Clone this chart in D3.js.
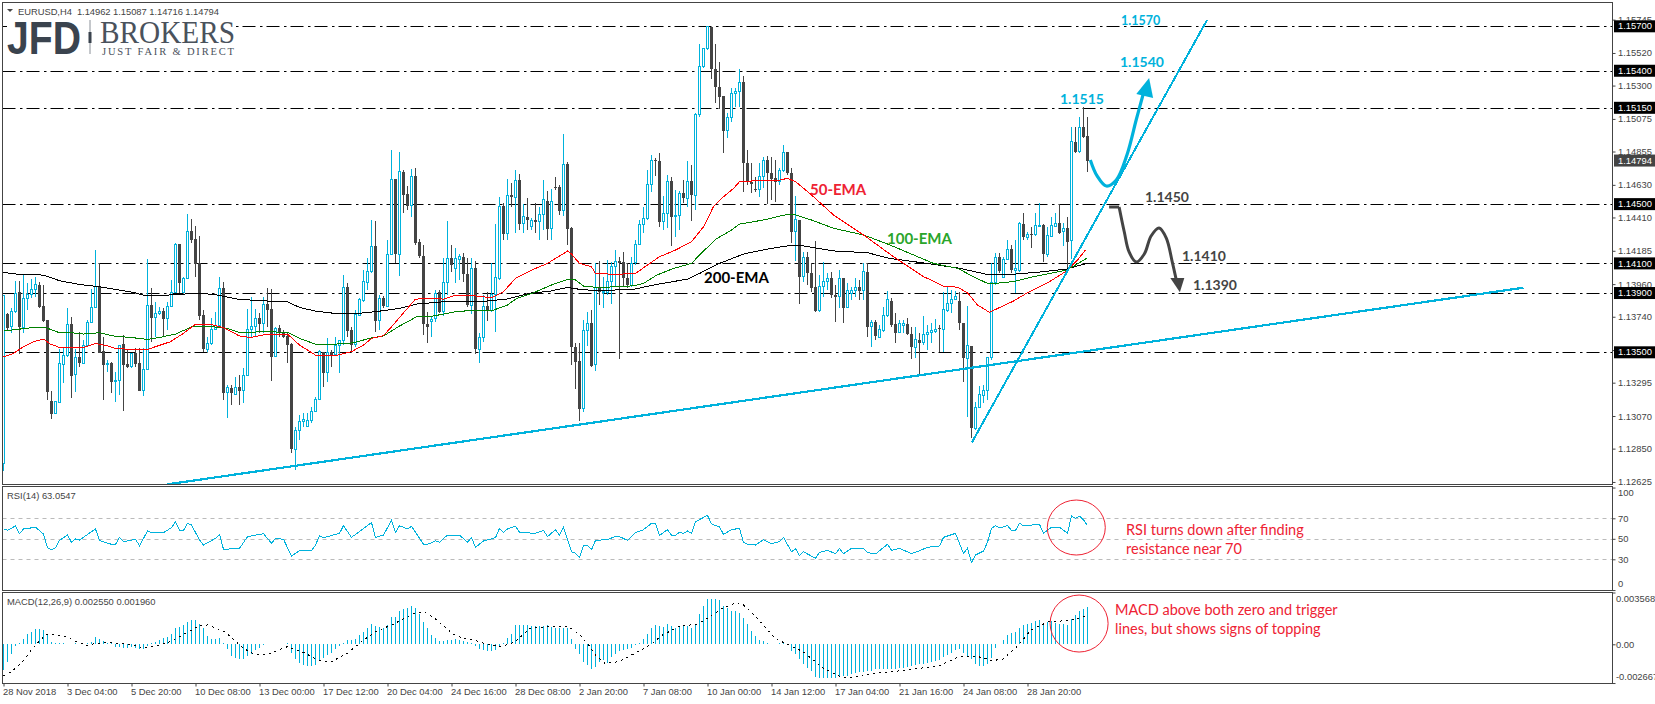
<!DOCTYPE html>
<html>
<head>
<meta charset="utf-8">
<script src="https://cdn.jsdelivr.net/npm/d3@7"></script>
<style>
  html, body { margin: 0; padding: 0; background: #fff; overflow: hidden; }
  svg { display: block; }
  .axis text { font: 9.4px "Liberation Sans", sans-serif; fill: #444; }
  .axis line { stroke: #444; }
  .box text { font: 9.4px "Liberation Sans", sans-serif; fill: #fff; }
  .note { font-family: Lato, sans-serif; }
</style>
</head>
<body>
<div id="wrap"></div>
<script>
// candles, in points (1/100000)
const opens = [
  112750,113758,113673,113774,113904,113666,113864,113891,113925,113954,
  113812,113717,113173,113087,113162,113418,113479,113688,113351,113466,
  113425,113544,113704,113803,113947,113508,113418,113425,113301,113308,
  113553,113418,113407,113497,113425,113241,113384,113817,113735,113762,
  113778,113729,113810,113904,114230,113902,113996,114320,114264,114100,
  113751,113522,113560,113655,113684,113931,113227,113261,113213,113263,
  113241,113344,113655,113673,113729,113695,113823,113789,113470,113661,
  113634,113610,113553,112845,112970,113031,112997,113038,113101,113182,
  113499,113362,113499,113484,113546,113578,113938,113650,113551,113751,
  113848,113972,114044,114217,113717,113864,113812,114163,114672,114163,
  114714,114568,114489,114687,114246,114150,113690,113708,113729,113904,
  113774,113972,114134,114066,114127,114141,114026,113819,114066,113522,
  113600,113812,113785,113891,113999,114487,114303,114561,114543,114662,
  114368,114410,114348,114392,114381,114428,114521,114334,114613,114615,
  114455,114770,114341,113538,113441,113121,113646,113695,113416,113938,
  113902,113902,113976,114082,114113,114109,114003,113954,114105,114226,
  114363,114404,114633,114797,114788,114383,114437,114653,114415,114422,
  114575,114539,114653,114561,115106,115430,115547,115697,115409,115293,
  115229,114995,115085,115248,115259,115322,114777,114651,114600,114600,
  114685,114797,114707,114676,114651,114725,114849,114708,114314,114393,
  114011,114141,114033,113938,113781,113943,113977,113999,113887,113876,
  113999,113803,113898,113920,113938,113920,114044,113673,113704,113601,
  113650,113745,113846,113691,113632,113684,113691,113623,113534,113583,
  113565,113621,113632,113639,113666,113655,113785,113830,113858,113846,
  113700,113459,113543,112987,113126,113207,113245,113466,113970,114141,
  114006,114127,114195,114055,114055,114366,114274,114299,114292,114353,
  114359,114157,114280,114348,114370,114314,114337,114253,114922,114854,
  115019,114962
];
const highs = [
  113882,113763,113796,113983,113983,114021,113965,113992,114010,113976,
  113954,113717,113241,113173,113520,113538,113796,113740,113520,113639,
  113582,113717,113925,114190,114100,113600,113447,113436,113369,113549,
  113614,113515,113497,113526,113526,113526,114127,113931,113841,113803,
  113796,113841,113988,114235,114230,114010,114433,114399,114352,114284,
  113785,113605,113729,113774,114010,113976,113279,113279,113335,113346,
  113391,113790,113870,113790,113762,113875,113931,113925,113672,113684,
  113650,113628,113560,112997,113076,113087,113092,113132,113200,113515,
  113504,113594,113515,113605,113582,114021,113970,113672,113785,113864,
  114055,114134,114392,114386,113886,113880,114257,114865,114672,114851,
  114730,114620,114737,114743,114266,114224,113774,113740,113920,113920,
  114134,114388,114224,114201,114163,114167,114134,114134,114116,113627,
  113886,113909,114100,114365,114550,114505,114669,114640,114730,114703,
  114498,114543,114404,114505,114482,114662,114588,114600,114685,114629,
  114973,114784,114347,113565,113565,113717,113774,113785,114100,114116,
  114010,114122,114111,114190,114141,114179,114100,114145,114257,114393,
  114482,114730,114831,114813,114842,114554,114696,114680,114595,114588,
  114662,114791,114764,115112,115580,115556,115697,115697,115580,115457,
  115229,115112,115281,115281,115409,115364,114865,114775,114685,114780,
  114815,114824,114820,114797,114741,114899,114849,114742,114555,114393,
  114179,114179,114100,114251,114022,114107,114033,114044,113954,114055,
  113999,113965,113943,113999,113988,114100,114105,113718,113718,113684,
  113808,113914,113864,113763,113718,113718,113729,113673,113673,113628,
  113745,113684,113695,113722,113684,113909,113943,113920,113916,113909,
  113700,113813,113543,113167,113272,113279,113471,114100,114168,114168,
  114145,114258,114224,114258,114382,114438,114314,114348,114438,114505,
  114366,114348,114415,114438,114501,114370,114415,115023,115019,115086,
  115153,115087
];
const lows = [
  112698,113650,113628,113767,113488,113632,113785,113864,113875,113801,
  113706,113177,113049,113083,113162,113290,113470,113193,113234,113402,
  113418,113537,113695,113796,113497,113177,113369,113227,113166,113211,
  113103,113396,113391,113402,113241,113207,113380,113571,113605,113751,
  113600,113650,113803,113897,113897,113897,113992,114240,114010,113717,
  113504,113504,113549,113650,113672,113177,113058,113144,113213,113144,
  113155,113342,113594,113605,113628,113628,113672,113308,113466,113605,
  113594,113430,112822,112705,112907,112997,112997,113020,113099,113177,
  113267,113301,113402,113479,113362,113549,113605,113492,113537,113745,
  113841,113920,114032,113639,113650,113796,113807,114163,114100,114015,
  114437,114460,114415,114224,114134,113616,113560,113600,113706,113767,
  113745,113886,114044,113965,113988,113976,113807,113756,113488,113425,
  113571,113713,113774,113639,113988,114257,114257,114482,114303,114325,
  114303,114325,114325,114303,114257,114325,114257,114257,114595,114426,
  114419,114224,113414,113250,113038,113099,113544,113402,113375,113819,
  113796,113886,113825,113942,113452,113942,113931,113942,114089,114224,
  114303,114393,114584,114689,114347,114325,114336,114219,114280,114325,
  114505,114482,114388,114460,115090,115416,115540,115344,115180,115142,
  114842,114944,115056,115153,115158,114579,114629,114577,114584,114550,
  114606,114500,114528,114516,114629,114719,114696,114235,114116,113824,
  113977,113954,113909,113774,113774,113876,113920,113864,113707,113797,
  113700,113797,113853,113876,113853,113853,113605,113534,113583,113594,
  113639,113740,113673,113565,113628,113628,113617,113455,113459,113347,
  113549,113515,113561,113628,113504,113504,113774,113763,113853,113650,
  113302,113065,112919,112975,113122,113155,113178,113448,113954,114033,
  114006,114123,114033,113898,114044,114258,114258,114202,114285,114348,
  114107,114145,114276,114343,114298,114220,114067,114128,114848,114848,
  114944,114716
];
const closes = [
  113880,113666,113774,113898,113668,113864,113891,113925,113958,113808,
  113713,113234,113085,113169,113425,113479,113688,113342,113466,113425,
  113544,113704,113803,113947,113497,113414,113425,113301,113310,113544,
  113416,113400,113492,113418,113241,113384,113817,113733,113762,113776,
  113726,113807,113904,114230,113970,113999,114318,114258,114093,113745,
  113522,113560,113655,113684,113931,113227,113261,113223,113263,113238,
  113344,113657,113673,113729,113690,113823,113785,113470,113661,113628,
  113605,113549,112845,112975,113034,113047,113040,113101,113182,113504,
  113362,113499,113484,113549,113578,113938,113646,113549,113758,113853,
  113976,114044,114217,113713,113864,113812,114163,114667,114163,114717,
  114561,114489,114687,114240,114150,113690,113673,113722,113898,113774,
  113972,114134,114089,114134,114145,114026,113819,114066,113522,113600,
  113807,113781,113891,114006,114487,114298,114561,114550,114662,114365,
  114417,114392,114390,114381,114433,114528,114332,114519,114606,114455,
  114770,114332,113538,113436,113117,113650,113695,113407,113936,113909,
  113909,113981,114082,114113,114100,114003,113954,114100,114230,114363,
  114404,114633,114797,114788,114381,114437,114653,114415,114426,114575,
  114543,114653,114561,115106,115430,115547,115697,115409,115293,115225,
  114995,115085,115248,115261,115322,114775,114651,114633,114595,114689,
  114793,114707,114669,114651,114730,114849,114707,114314,114393,114011,
  114141,114033,113932,113779,113947,113977,113999,113887,113876,113999,
  113797,113916,113920,113938,113916,114044,113673,113704,113610,113655,
  113749,113853,113684,113632,113691,113691,113623,113534,113588,113561,
  113621,113635,113650,113655,113660,113790,113830,113858,113876,113700,
  113459,113543,112987,113129,113212,113245,113466,113970,114141,114051,
  114127,114195,114055,114067,114366,114281,114296,114294,114353,114359,
  114161,114285,114353,114370,114307,114337,114247,114922,114854,115019,
  114956,114794
];

// moving averages: [bar, points]
const ema50 = [[0,113470],[2.5,113492],[5,113538],[7.5,113571],[10,113589],[11.7,113556],[14,113533],[17,113531],[20,113533],[23,113560],[24,113553],[26,113544],[28,113526],[32.5,113519],[36,113519],[38,113538],[41.7,113571],[45,113628],[48,113690],[52.5,113684],[55,113666],[59,113610],[61.7,113600],[66,113623],[71,113623],[74,113549],[78,113481],[83,113477],[87,113504],[90,113549],[92,113594],[95,113612],[97,113672],[99,113735],[103,113859],[107,113864],[110,113859],[113,113886],[118,113880],[122,113868],[125,113909],[128,113999],[132,114055],[136,114100],[141,114183],[142,114163],[144,114100],[147,114077],[148,114032],[153,114026],[158,114032],[161,114089],[164,114145],[168,114190],[172,114246],[175,114347],[177.5,114483],[180,114550],[182.5,114606],[184,114651],[187,114656],[194,114662],[196,114674],[198,114652],[202,114562],[207.5,114427],[215,114292],[222.5,114145],[230,114011],[235,113947],[238.5,113939],[241,113902],[243.5,113819],[246.5,113770],[252.5,113846],[256,113902],[261.5,113977],[265.5,114044],[268.5,114123],[270.5,114190]];
const ema100 = [[0,113643],[3.3,113654],[7.5,113668],[10.4,113668],[13.8,113634],[17,113632],[20,113623],[24,113632],[27.5,113610],[32.5,113598],[36,113587],[39,113600],[43,113623],[47.5,113677],[51,113677],[56,113661],[59,113634],[66,113639],[71,113634],[74,113594],[78,113555],[83,113555],[87.5,113564],[92,113598],[95,113610],[99,113677],[103.3,113740],[107.5,113745],[113,113774],[118.3,113785],[122.5,113785],[126,113819],[128.3,113864],[132.5,113902],[137,113954],[141,113992],[143,113988],[145,113947],[148.3,113938],[153.3,113942],[157.5,113949],[160,113965],[163.3,114021],[167.5,114066],[172,114100],[174,114156],[178,114262],[182,114325],[184,114365],[190,114393],[196,114431],[198,114427],[202,114393],[207.5,114337],[215,114292],[221,114231],[227.5,114157],[232.5,114100],[238.5,114067],[242.5,114010],[246.3,113961],[252.5,113977],[257.5,114010],[265.8,114055],[268.7,114100],[270.8,114134]];
const ema200 = [[0,114039],[3.3,114028],[10,114021],[14,113983],[19,113958],[24,113942],[27.5,113927],[32.5,113904],[35,113886],[41,113886],[48.3,113898],[52.5,113891],[59,113857],[66,113846],[71,113841],[74,113803],[78,113778],[83,113762],[88.3,113762],[93,113774],[99,113796],[103.3,113826],[110,113841],[115.8,113841],[120.8,113846],[125.8,113859],[132.5,113904],[136,113909],[141,113938],[144,113925],[148.3,113916],[157.5,113925],[162.5,113954],[171,113994],[174,114032],[179,114100],[185,114163],[191,114197],[196,114218],[200,114218],[207.5,114184],[216,114172],[221.5,114134],[230.8,114100],[239,114067],[246.5,114022],[253,114028],[260,114044],[265.8,114062],[270.8,114100]];

// RSI(14): [bar, value]
const rsi = [[0,59.6],[1,58.3],[3,62.5],[4,55],[5,59.6],[8,61.2],[10,54.7],[11,41.3],[12,39.4],[13,41.3],[14,48.5],[16,53.7],[17,46.6],[18,49.8],[19,48.8],[23,59.6],[24,48.2],[27,44.6],[28,44.6],[29,51.4],[30,47.2],[33,49.5],[34,43.3],[36,57.6],[37,56],[40,56],[42,60.9],[43,66.7],[44,58.3],[45,58.3],[46,65.1],[47,63.5],[49,48.8],[50,43.9],[53,50.5],[54,54.4],[55,39.7],[59,40.7],[61,52.1],[65,55],[67,45.6],[68,50.5],[70,49.5],[72,33.2],[74,38.4],[77,38.7],[78,43.9],[79,53.1],[80,51.1],[84,55.3],[85,62.8],[87,51.4],[92,65.8],[93,51.4],[95,53.7],[97,68],[98,56.3],[99,62.8],[101,59.6],[102,62.2],[105,44.6],[106,44.6],[108,47.9],[109,46.6],[111,53.7],[114,53.7],[116,46.6],[117,51.4],[118,41.7],[120,47.9],[123,51.1],[124,60.2],[125,56.3],[126,59.6],[128,62.2],[129,56.3],[133,55.3],[135,58.3],[136,52.1],[138,58.9],[139,53.7],[140,61.2],[142,37.4],[143,35.8],[144,31.6],[145,43],[146,43.3],[147,39.4],[148,48.5],[151,49.2],[153,52.4],[154,52.1],[156,48.5],[158,56],[160,58.9],[162,65.1],[163,65.1],[164,53.4],[166,58.9],[167,53.4],[168,53.4],[169,56.3],[170,55.3],[171,57.6],[172,55.3],[173,66.7],[176,72.9],[177,64.5],[179,61.5],[180,54.4],[182,58.9],[184,60.2],[185,46.6],[186,44.6],[188,43.9],[190,49.2],[192,45.2],[194,47.2],[195,51.4],[197,37.4],[198,40.4],[199,33.5],[200,37.4],[203,30.9],[204,36.8],[206,38.7],[208,35.5],[209,40.4],[210,35.5],[212,40.7],[215,40.7],[216,36.5],[218,35.2],[221,44.6],[222,38.7],[224,40.7],[227,35.5],[229,38.4],[231,41.7],[234,43],[235,51.4],[238,55.3],[240,35.5],[241,40.7],[242,27],[243,34.2],[245,38.1],[246,46.6],[247,60.2],[248,62.8],[249,60.6],[251,62.8],[252,58.3],[253,58.3],[254,65.1],[255,62.8],[259,64.1],[260,55.3],[262,61.2],[264,61.2],[266,55.3],[267,72.3],[268,70],[269,72],[270,68.4],[271,63.05]];

// MACD histogram per bar, in millionths
const macdHist = [
  -1771,-1242,-667,-115,69,345,690,874,1058,1058,
  966,690,138,92,92,69,0,46,69,46,
  46,92,184,529,345,230,115,69,-184,-184,
  -230,-230,-184,-230,-322,-322,-138,92,184,299,
  414,506,690,1150,1196,1334,1518,1656,1656,1380,
  1104,575,345,368,414,69,-345,-805,-966,-1035,
  -1035,-805,-690,-391,-276,-69,0,46,46,46,
  46,69,-598,-1035,-1265,-1426,-1495,-1518,-1426,-1150,
  -966,-736,-575,-322,-115,115,276,322,345,644,
  874,1104,1380,1265,1219,1150,1334,1886,1886,2300,
  2415,2530,2645,2484,2070,1564,1150,644,414,230,
  230,276,322,368,322,230,184,115,-115,-345,
  -414,-460,-460,-414,-184,69,414,736,1334,1334,
  1334,1334,1242,1242,1242,1288,1334,1196,1150,1150,
  1150,1150,345,-322,-690,-1196,-1426,-1725,-1564,-1196,
  -1104,-1265,-874,-690,-460,-414,-345,-276,-69,115,
  345,690,1104,1334,1265,1219,1380,1265,1150,1196,
  1265,1288,1150,1380,2070,2645,3105,3151,3151,3036,
  2645,2484,2300,2300,2185,1840,1380,920,575,322,
  230,69,0,46,69,115,-69,-460,-690,-1035,
  -1380,-1656,-1840,-2254,-2300,-2300,-2300,-2300,-2300,-2254,
  -2185,-2185,-2070,-1955,-1886,-1886,-1840,-1840,-1725,-1725,
  -1725,-1725,-1725,-1725,-1610,-1610,-1564,-1495,-1426,-1380,
  -1334,-1265,-1196,-1150,-1104,-874,-736,-575,-414,-345,
  -575,-805,-1035,-1380,-1495,-1495,-1380,-920,-276,0,
  276,644,805,874,1150,1334,1380,1495,1610,1656,
  1495,1564,1610,1495,1426,1380,1334,1725,2001,2300,
  2415,2550
];
// signal line: [bar, millionths]
const macdSignal = [[0,-2185],[2,-1886],[4.4,-1311],[7,-391],[8.8,184],[10.6,644],[12.3,690],[16,483],[18.5,138],[21,-92],[22.9,69],[25.5,115],[30,69],[32.5,-46],[35,-276],[38.6,-92],[41.3,138],[44.8,644],[49,1288],[51,1334],[55.3,874],[59,-46],[61.5,-552],[63.7,-736],[66.7,-621],[71,-161],[74.6,-506],[79,-1127],[82,-1196],[86,-621],[89.5,184],[93,874],[97.4,1380],[102.7,2139],[105.3,2208],[108,1748],[112.3,713],[115,414],[117.6,299],[121.5,-46],[124.6,-161],[128,184],[131.6,1104],[136.7,1242],[141,1242],[143.7,759],[146.3,-46],[148,-736],[150.3,-1311],[153.8,-1196],[157.8,-621],[161.7,-46],[164.8,644],[169.2,1265],[173.5,1380],[176,1794],[179.7,2484],[182.8,2829],[185,2714],[188.5,1794],[192.8,414],[196.3,-46],[199.9,-506],[205,-1656],[208.6,-2162],[211.3,-2346],[215.6,-2070],[226,-1771],[234,-1472],[239.3,-805],[243.7,-851],[247.2,-1127],[249.9,-1012],[253.4,-161],[256.9,989],[261.3,1564],[266.5,1633],[271,1960]];

// horizontal levels and axis labels
const levels = [1.157, 1.154, 1.1515, 1.145, 1.141, 1.139, 1.135];
const lastPrice = 1.14794;
const priceTicks = [1.15745, 1.1552, 1.153, 1.15075, 1.14855, 1.1463, 1.1441, 1.14185, 1.1396, 1.1374, 1.13515, 1.13295, 1.1307, 1.1285, 1.12625];
const rsiTicks = [100, 70, 50, 30, 0];
const macdTicks = [0.003568, 0, -0.002667];
const macdTickLabels = ["0.003568", "0.00", "-0.002667"];
const dateTicks = d3.range(0, 257, 16);
const dateLabels = ["28 Nov 2018", "3 Dec 04:00", "5 Dec 20:00", "10 Dec 08:00", "13 Dec 00:00", "17 Dec 12:00", "20 Dec 04:00", "24 Dec 16:00", "28 Dec 08:00", "2 Jan 20:00", "7 Jan 08:00", "10 Jan 00:00", "14 Jan 12:00", "17 Jan 04:00", "21 Jan 16:00", "24 Jan 08:00", "28 Jan 20:00"];

// drawn annotations: [bar, price]
const supportLine = [[41, 1.12609], [380, 1.13936]];
const steepLine = [[242.1, 1.12892], [300.9, 1.15743]];
const upPath = [[271.7, 1.14798], [273.4, 1.1469], [275.7, 1.14622], [278.2, 1.14663], [280.9, 1.14835], [283.2, 1.15071], [285, 1.1525]];
const upHead = [[286.4, 1.15351], [283.2, 1.15243], [287.4, 1.15216]];
const downStub = [[276.4, 1.14481], [278.9, 1.14481]];
const downPath = [[278.9, 1.14481], [280.2, 1.14312], [281.4, 1.14177], [283.2, 1.14109], [285.2, 1.14163], [286.9, 1.14285], [288.9, 1.14339], [290.7, 1.14271], [292.2, 1.14109], [293.2, 1.13988]];
const downHead = [[294.1, 1.13905], [291.7, 1.14002], [295.2, 1.14002]];

const width = 1655;
const height = 704;
const frame = { left: 2.5, right: 1612.5 };
const pane = {
    main: { top: 2.5, bottom: 484.5 },
    rsi: { top: 486.5, bottom: 590.5 },
    macd: { top: 592.5, bottom: 683.5 }
};
const BLUE = "#00b2dc";
const DARK = "#444";

const x = d3.scaleLinear().domain([0, 271]).range([3.5, 1087.5]);
const y = d3.scaleLinear().domain([1.157, 1.135]).range([26.3, 352.3]);
const rsiY = d3.scaleLinear().domain([70, 30]).range([518.3, 559.3]);
const macdY = d3.scaleLinear().domain([0, 0.003568]).range([644.3, 592.5]);

const svg = d3.select("#wrap").append("svg")
    .attr("width", width)
    .attr("height", height);

svg.append("rect").attr("width", width).attr("height", height).attr("fill", "#fff");

svg.append("clipPath").attr("id", "main-clip").append("rect")
    .attr("x", frame.left).attr("y", pane.main.top)
    .attr("width", frame.right - frame.left)
    .attr("height", pane.main.bottom - pane.main.top);

const main = svg.append("g").attr("clip-path", "url(#main-clip)");

// level lines
main.selectAll(".level").data(levels).join("line")
    .attr("class", "level")
    .attr("x1", frame.left).attr("x2", frame.right)
    .attr("y1", d => Math.round(y(d)) + 0.5).attr("y2", d => Math.round(y(d)) + 0.5)
    .attr("stroke", "#000")
    .attr("stroke-dasharray", "13,4.5,2.5,4");

// candles
const candles = d3.range(opens.length).map(i => ({
    i, open: opens[i] / 1e5, high: highs[i] / 1e5, low: lows[i] / 1e5, close: closes[i] / 1e5
}));
const candle = main.append("g").attr("shape-rendering", "crispEdges")
    .selectAll("g").data(candles).join("g");

candle.append("line")
    .attr("x1", d => x(d.i)).attr("x2", d => x(d.i))
    .attr("y1", d => y(d.high)).attr("y2", d => y(d.low))
    .attr("stroke", d => d.close >= d.open ? BLUE : DARK);

candle.append("rect")
    .attr("x", d => d.close >= d.open ? x(d.i) - 1 : x(d.i) - 1.5)
    .attr("width", d => d.close >= d.open ? 2 : 3)
    .attr("y", d => y(Math.max(d.open, d.close)))
    .attr("height", d => Math.max(1, Math.abs(y(d.open) - y(d.close))))
    .attr("fill", d => d.close >= d.open ? "#fff" : DARK)
    .attr("stroke", d => d.close >= d.open ? BLUE : "none");

// moving averages
const emaLine = d3.line().x(d => x(d[0])).y(d => y(d[1] / 1e5));
[[ema200, "#000"], [ema100, "#008000"], [ema50, "#f00"]].forEach(([data, color]) => {
    main.append("path")
        .attr("d", emaLine(data))
        .attr("fill", "none")
        .attr("stroke", color)
        .attr("stroke-width", 1)
        .attr("shape-rendering", "crispEdges");
});

// trend lines and projected paths
const priceLine = d3.line().x(d => x(d[0])).y(d => y(d[1]));
const smoothLine = d3.line().x(d => x(d[0])).y(d => y(d[1])).curve(d3.curveCatmullRom);

main.append("path").attr("d", priceLine(supportLine))
    .attr("fill", "none").attr("stroke", BLUE).attr("stroke-width", 2.2)
    .attr("shape-rendering", "crispEdges");
main.append("path").attr("d", priceLine(steepLine))
    .attr("fill", "none").attr("stroke", BLUE).attr("stroke-width", 2)
    .attr("shape-rendering", "crispEdges");

main.append("path").attr("d", smoothLine(upPath))
    .attr("fill", "none").attr("stroke", BLUE).attr("stroke-width", 3.2);
main.append("path").attr("d", priceLine(upHead) + "Z").attr("fill", BLUE);

main.append("path").attr("d", priceLine(downStub))
    .attr("fill", "none").attr("stroke", DARK).attr("stroke-width", 3);
main.append("path").attr("d", smoothLine(downPath))
    .attr("fill", "none").attr("stroke", DARK).attr("stroke-width", 3);
main.append("path").attr("d", priceLine(downHead) + "Z").attr("fill", DARK);

// notes on the price pane
function note(text, px, py, size, color, weight) {
    svg.append("text").attr("class", "note")
        .attr("x", px).attr("y", py)
        .attr("font-size", size)
        .attr("font-weight", weight || "normal")
        .attr("fill", color)
        .text(text);
}
note("1.1570", 1121, 25, 12.5, BLUE, "bold");
note("1.1540", 1120, 67, 14, BLUE, "bold");
note("1.1515", 1060, 104, 14, BLUE, "bold");
note("1.1450", 1145, 202, 14, DARK, "bold");
note("1.1410", 1182, 261, 14, DARK, "bold");
note("1.1390", 1193, 290, 14, DARK, "bold");
note("50-EMA", 810, 195, 15, "#ee2233", "bold");
note("100-EMA", 887, 244, 15, "#2aa52a", "bold");
note("200-EMA", 704, 283, 15, "#000", "bold");

// logo
svg.append("rect").attr("x", 7).attr("y", 19).attr("width", 228).attr("height", 38).attr("fill", "#fff");
svg.append("text").attr("x", 7).attr("y", 54)
    .attr("font-family", "Liberation Sans").attr("font-weight", "bold").attr("font-size", 47)
    .attr("textLength", 74).attr("lengthAdjust", "spacingAndGlyphs")
    .attr("fill", "#3a434e").text("JFD");
svg.append("line").attr("x1", 90).attr("x2", 90).attr("y1", 20).attr("y2", 54).attr("stroke", "#8a9098");
svg.append("rect").attr("x", 88.5).attr("y", 32).attr("width", 3).attr("height", 11).attr("fill", "#3a434e");
svg.append("text").attr("x", 100).attr("y", 43)
    .attr("font-family", "Liberation Serif").attr("font-size", 32)
    .attr("textLength", 135).attr("lengthAdjust", "spacingAndGlyphs")
    .attr("fill", "#4a525c").text("BROKERS");
svg.append("text").attr("x", 102).attr("y", 55)
    .attr("font-family", "Liberation Serif").attr("font-size", 10.5)
    .attr("textLength", 132).attr("fill", "#4a525c").text("JUST FAIR & DIRECT");

// RSI pane
svg.append("g").selectAll("line").data([70, 50, 30]).join("line")
    .attr("x1", frame.left).attr("x2", frame.right)
    .attr("y1", d => Math.round(rsiY(d)) + 0.5).attr("y2", d => Math.round(rsiY(d)) + 0.5)
    .attr("stroke", "#bbb")
    .attr("stroke-dasharray", "4,4");
svg.append("path")
    .attr("d", d3.line().x(d => x(d[0])).y(d => rsiY(d[1]))(rsi))
    .attr("fill", "none").attr("stroke", BLUE).attr("stroke-width", 1)
    .attr("shape-rendering", "crispEdges");

// MACD pane
svg.append("g").attr("shape-rendering", "crispEdges")
    .selectAll("rect").data(macdHist).join("rect")
    .attr("x", (d, i) => x(i) - 0.5)
    .attr("width", 1)
    .attr("y", d => macdY(Math.max(0, d / 1e6)))
    .attr("height", d => Math.abs(macdY(d / 1e6) - macdY(0)))
    .attr("fill", BLUE);
svg.append("path")
    .attr("d", d3.line().x(d => x(d[0])).y(d => macdY(d[1] / 1e6))(macdSignal))
    .attr("fill", "none").attr("stroke", "#000").attr("stroke-width", 1)
    .attr("stroke-dasharray", "2,4")
    .attr("shape-rendering", "crispEdges");

// red circles and comments
svg.append("ellipse")
    .attr("cx", x(268.2)).attr("cy", rsiY(61)).attr("rx", 29).attr("ry", 27.5)
    .attr("fill", "none").attr("stroke", "#ee2233");
svg.append("ellipse")
    .attr("cx", x(268.9)).attr("cy", macdY(0.00143)).attr("rx", 29).attr("ry", 28.5)
    .attr("fill", "none").attr("stroke", "#ee2233");
note("RSI turns down after finding", 1126, 535, 14.5, "#ee2233");
note("resistance near 70", 1126, 554, 14.5, "#ee2233");
note("MACD above both zero and trigger", 1115, 615, 14.5, "#ee2233");
note("lines, but shows signs of topping", 1115, 634, 14.5, "#ee2233");

// pane frames
Object.values(pane).forEach(p => {
    svg.append("rect")
        .attr("x", frame.left).attr("y", p.top)
        .attr("width", frame.right - frame.left).attr("height", p.bottom - p.top)
        .attr("fill", "none").attr("stroke", DARK).attr("stroke-width", 1)
        .attr("shape-rendering", "crispEdges");
});

// right axes
const priceAxis = d3.axisRight(y).tickValues(priceTicks).tickSize(3).tickPadding(2.5).tickFormat(d3.format(".5f"));
svg.append("g").attr("class", "axis").attr("transform", `translate(${frame.right},0)`)
    .call(priceAxis).call(g => g.select(".domain").remove());

const rsiAxis = d3.axisRight(rsiY).tickValues(rsiTicks).tickSize(3).tickPadding(2.5).tickFormat(d3.format("d"));
svg.append("g").attr("class", "axis").attr("transform", `translate(${frame.right},0)`)
    .call(rsiAxis).call(g => g.select(".domain").remove())
    .selectAll("text").attr("dy", d => d === 100 ? "0.85em" : d === 0 ? "-0.35em" : "0.32em");

const macdAxis = d3.axisRight(macdY).tickValues(macdTicks).tickSize(3).tickPadding(0.5)
    .tickFormat((d, i) => macdTickLabels[i]);
svg.append("g").attr("class", "axis").attr("transform", `translate(${frame.right},0)`)
    .call(macdAxis).call(g => g.select(".domain").remove())
    .selectAll("text").attr("dy", (d, i) => i === 0 ? "0.95em" : i === 2 ? "-0.35em" : "0.32em");

// level and last price boxes
const box = svg.append("g").attr("class", "box");
function priceBox(value, color) {
    box.append("rect")
        .attr("x", 1614).attr("width", 41)
        .attr("y", y(value) - 6).attr("height", 12)
        .attr("fill", color);
    box.append("text")
        .attr("x", 1618).attr("y", y(value)).attr("dy", "0.34em")
        .text(d3.format(".5f")(value));
}
levels.forEach(d => priceBox(d, "#000"));
priceBox(lastPrice, DARK);

// date axis
const dateAxis = d3.axisBottom(x).tickValues(dateTicks).tickSize(3).tickPadding(2)
    .tickFormat((d, i) => dateLabels[i]);
svg.append("g").attr("class", "axis").attr("transform", `translate(0,${pane.macd.bottom})`)
    .call(dateAxis).call(g => g.select(".domain").remove())
    .selectAll("text").attr("text-anchor", "start").attr("dx", "-1");

// pane headers
svg.append("path").attr("d", "M7,9L13,9L10,12Z").attr("fill", DARK);
const header = (text, px, py) => svg.append("text").attr("x", px).attr("y", py)
    .attr("font-family", "Liberation Sans").attr("font-size", 9.4).attr("fill", "#444").text(text);
header("EURUSD,H4  1.14962 1.15087 1.14716 1.14794", 18, 14.5)
    .attr("xml:space", "preserve").attr("textLength", 201);
header("RSI(14) 63.0547", 7, 498.5);
header("MACD(12,26,9) 0.002550 0.001960", 7, 604.5);
</script>
</body>
</html>
